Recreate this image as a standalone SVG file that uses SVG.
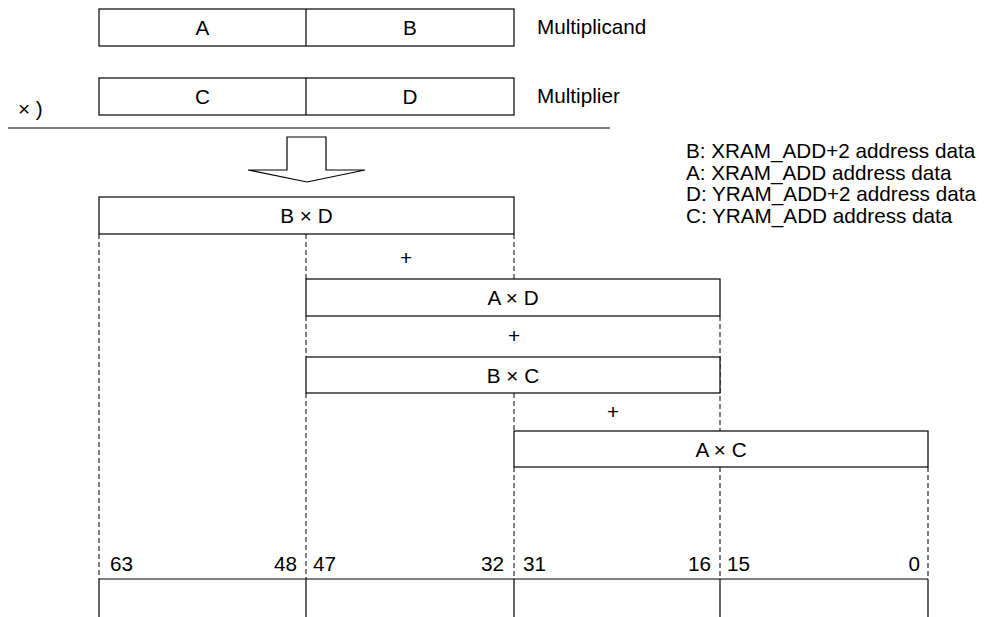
<svg xmlns="http://www.w3.org/2000/svg" width="987" height="617" viewBox="0 0 987 617">
<style>
.box{fill:#fff;stroke:#000;stroke-width:1.2}
.ln{stroke:#000;stroke-width:1.2;fill:none}
.dash{stroke:#000;stroke-width:1;stroke-dasharray:5 3;fill:none}
text{font-family:"Liberation Sans",Arial,sans-serif;font-size:20.7px;fill:#000}
.c{text-anchor:middle}
.e{text-anchor:end}
</style>
<rect width="987" height="617" fill="#fff"/>
<g id="multiplicand">
<rect class="box" x="99" y="9" width="415" height="37"/>
<line class="ln" x1="306" y1="9" x2="306" y2="46"/>
<text class="c" x="202.5" y="35">A</text>
<text class="c" x="410" y="35">B</text>
<text x="537" y="34">Multiplicand</text>
</g>
<g id="multiplier">
<rect class="box" x="99" y="78" width="415" height="37"/>
<line class="ln" x1="306" y1="78" x2="306" y2="115"/>
<text class="c" x="202.5" y="104">C</text>
<text class="c" x="410" y="104">D</text>
<text x="537" y="103">Multiplier</text>
<text x="18" y="115.5">× )</text>
<line class="ln" x1="8" y1="128" x2="610" y2="128"/>
</g>
<g id="arrow">
<polygon class="box" points="287,137 326,137 326,170 365,170 307,182 248,170 287,170"/>
</g>
<g id="legend">
<text x="686" y="158">B: XRAM_ADD+2 address data</text>
<text x="686" y="179.5">A: XRAM_ADD address data</text>
<text x="686" y="201">D: YRAM_ADD+2 address data</text>
<text x="686" y="222.5">C: YRAM_ADD address data</text>
</g>
<g id="connectors">
<line class="dash" x1="99" y1="234" x2="99" y2="579"/>
<line class="dash" x1="306" y1="234" x2="306" y2="279"/>
<line class="dash" x1="306" y1="316" x2="306" y2="357"/>
<line class="dash" x1="306" y1="393" x2="306" y2="579"/>
<line class="dash" x1="514" y1="234" x2="514" y2="279"/>
<line class="dash" x1="514" y1="393" x2="514" y2="431"/>
<line class="dash" x1="514" y1="467" x2="514" y2="579"/>
<line class="dash" x1="720" y1="316" x2="720" y2="431"/>
<line class="dash" x1="720" y1="467" x2="720" y2="579"/>
<line class="dash" x1="928" y1="467" x2="928" y2="579"/>
</g>
<g id="BxD">
<rect class="box" x="99" y="197" width="415" height="37"/>
<text class="c" x="306.5" y="223">B × D</text>
</g>
<text class="c" x="406" y="265">+</text>
<g id="AxD">
<rect class="box" x="306" y="279" width="414" height="37"/>
<text class="c" x="513" y="305">A × D</text>
</g>
<text class="c" x="514" y="343">+</text>
<g id="BxC">
<rect class="box" x="306" y="357" width="414" height="36"/>
<text class="c" x="513" y="382.5">B × C</text>
</g>
<text class="c" x="613" y="419">+</text>
<g id="AxC">
<rect class="box" x="514" y="431" width="414" height="36"/>
<text class="c" x="721" y="456.5">A × C</text>
</g>
<g id="register">
<line class="ln" x1="99" y1="579" x2="928" y2="579"/>
<line class="ln" x1="99" y1="579" x2="99" y2="617"/>
<line class="ln" x1="306" y1="579" x2="306" y2="617"/>
<line class="ln" x1="514" y1="579" x2="514" y2="617"/>
<line class="ln" x1="720" y1="579" x2="720" y2="617"/>
<line class="ln" x1="928" y1="579" x2="928" y2="617"/>
<text x="110" y="571">63</text>
<text class="e" x="297" y="571">48</text>
<text x="313" y="571">47</text>
<text class="e" x="504" y="571">32</text>
<text x="523" y="571">31</text>
<text class="e" x="711" y="571">16</text>
<text x="727" y="571">15</text>
<text class="e" x="920" y="571">0</text>
</g>
</svg>
